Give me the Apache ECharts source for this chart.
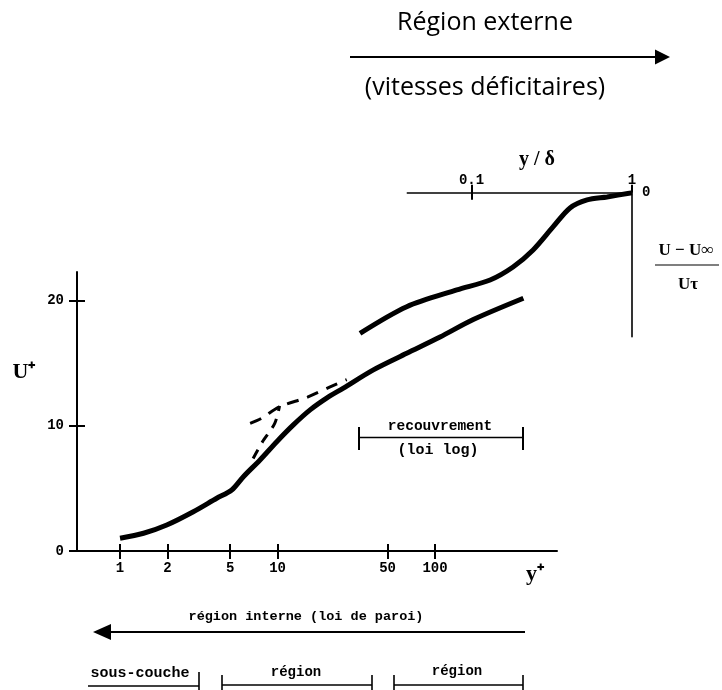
<!DOCTYPE html>
<html><head><meta charset="utf-8">
<script src="https://cdn.jsdelivr.net/npm/echarts@6/dist/echarts.min.js"></script>
<style>html,body{margin:0;padding:0;background:#fff}#c{width:722px;height:690px}</style>
</head><body><div id="c"></div>
<script>
// ---- data ----
const innerTickValues = [1, 2, 5, 10, 50, 100];
const innerTickLabels = ['1', '2', '5', '10', '50', '100'];
const uPlusTickValues = [0, 10, 20];
const outerTickValues = [0.1, 1];
const outerTickLabels = ['0.1', '1'];
const defectTickValues = [0];
const outerAxisStart = 0.0395;   // where the drawn y/delta axis line begins

// measured wall-law profile U+ vs y+
const profileYPlus = [1, 1.41, 1.98, 2.92, 4.11, 5.12, 6.07, 7.74, 9.89, 12.6, 16.1, 20.5, 26.2, 40.6, 66.1, 107.6, 175, 364];
const profileUPlus = [1.02, 1.42, 2.08, 3.14, 4.22, 4.88, 5.94, 7.28, 8.74, 10.08, 11.28, 12.22, 13.02, 14.48, 15.8, 17.1, 18.5, 20.2];

// dashed log-law asymptote
const logLawYPlus = [6.7, 7.9, 10.2, 15.5, 21.4, 27.5];
const logLawUPlus = [10.2, 10.6, 11.5, 12.3, 13.1, 13.7];

// dashed viscous (linear) asymptote
const linearYPlus = [7.0, 8.0, 9.6, 10.3];
const linearUPlus = [7.4, 8.7, 10.2, 11.6];

// velocity-defect profile (U - Uinf)/Utau vs y/delta
const defectYDelta = [0.0202, 0.0395, 0.081, 0.1306, 0.1815, 0.242, 0.322, 0.411, 0.525, 0.699, 1.0];
const defectValue = [-11.25, -9.12, -7.78, -6.98, -5.94, -4.58, -2.74, -1.22, -0.58, -0.34, 0];

// ---- chart ----
const zip = (a, b) => a.map((v, i) => [v, b[i]]);
const lookup = (vals, labels) => (v) => {
  for (let i = 0; i < vals.length; i++) if (Math.abs(vals[i] - v) / vals[i] < 1e-6) return labels[i];
  return String(v);
};
const MONO = 'Liberation Mono';
const lblStyle = {color: '#000', fontFamily: MONO, fontWeight: 'bold', fontSize: 14};
const black2 = {color: '#000', width: 2};

const chart = echarts.init(document.getElementById('c'), null, {renderer: 'canvas'});
chart.setOption({
  animation: false,
  backgroundColor: '#fff',
  grid: [
    {left: 77, top: 272, width: 480, height: 279},
    {left: 360, top: 192.7, width: 272, height: 144}
  ],
  xAxis: [
    {type: 'log', gridIndex: 0, position: 'bottom', min: 0.533, max: 595,
      axisLine: {lineStyle: black2},
      axisTick: {customValues: innerTickValues, length: 8, lineStyle: black2},
      axisLabel: Object.assign({customValues: innerTickValues, formatter: lookup(innerTickValues, innerTickLabels), margin: 10}, lblStyle),
      splitLine: {show: false}, minorTick: {show: false}},
    {type: 'log', gridIndex: 0, position: 'bottom', min: 0.533, max: 595,
      axisLine: {show: false},
      axisTick: {customValues: innerTickValues, inside: true, length: 7, lineStyle: black2},
      axisLabel: {show: false}, splitLine: {show: false}},
    {type: 'log', gridIndex: 1, position: 'top', min: 0.0202, max: 1,
      axisLine: {show: false},
      axisTick: {customValues: outerTickValues, length: 8, lineStyle: black2},
      axisLabel: Object.assign({customValues: outerTickValues, formatter: lookup(outerTickValues, outerTickLabels), margin: 5}, lblStyle),
      splitLine: {show: false}},
    {type: 'log', gridIndex: 1, position: 'top', min: 0.0202, max: 1,
      axisLine: {show: false},
      axisTick: {customValues: [0.1], inside: true, length: 7, lineStyle: black2},
      axisLabel: {show: false}, splitLine: {show: false}}
  ],
  yAxis: [
    {type: 'value', gridIndex: 0, position: 'left', min: 0, max: 22.3, interval: 10,
      axisLine: {onZero: false, lineStyle: black2},
      axisTick: {customValues: uPlusTickValues, length: 8, lineStyle: black2},
      axisLabel: Object.assign({customValues: uPlusTickValues, margin: 13}, lblStyle),
      splitLine: {show: false}},
    {type: 'value', gridIndex: 0, position: 'left', min: 0, max: 22.3, interval: 10,
      axisLine: {show: false, onZero: false},
      axisTick: {customValues: [10, 20], inside: true, length: 8, lineStyle: black2},
      axisLabel: {show: false}, splitLine: {show: false}},
    {type: 'value', gridIndex: 1, position: 'right', min: -11.52, max: 0,
      axisLine: {onZero: false, lineStyle: {color: '#000', width: 1.6}},
      axisTick: {show: false},
      axisLabel: Object.assign({customValues: defectTickValues, margin: 10}, lblStyle),
      splitLine: {show: false}}
  ],
  series: [
    {type: 'line', xAxisIndex: 0, yAxisIndex: 0, data: zip(profileYPlus, profileUPlus),
      showSymbol: false, smooth: 0.3, lineStyle: {color: '#000', width: 5}},
    {type: 'line', xAxisIndex: 0, yAxisIndex: 0, data: zip(logLawYPlus, logLawUPlus),
      showSymbol: false, smooth: 0.3, lineStyle: {color: '#000', width: 3, type: [12, 9]}},
    {type: 'line', xAxisIndex: 0, yAxisIndex: 0, data: zip(linearYPlus, linearUPlus),
      showSymbol: false, smooth: 0.3, lineStyle: {color: '#000', width: 3, type: [10, 8]}},
    {type: 'line', xAxisIndex: 2, yAxisIndex: 2, data: zip(defectYDelta, defectValue),
      showSymbol: false, smooth: 0.3, lineStyle: {color: '#000', width: 5},
      markLine: {silent: true, symbol: 'none', label: {show: false},
        lineStyle: {color: '#000', width: 1.6, type: 'solid'},
        data: [[{coord: [outerAxisStart, 0]}, {coord: [1, 0]}]]}}
  ],
  graphic: [
    // top header
    {type: 'text', x: 485, y: 23, style: {text: 'Région externe', fontFamily: 'Open Sans', fontSize: 25, fill: '#000', align: 'center', verticalAlign: 'middle'}},
    {type: 'line', shape: {x1: 350, y1: 57, x2: 657, y2: 57}, style: {stroke: '#000', lineWidth: 2}},
    {type: 'polygon', shape: {points: [[655, 49.5], [670, 57], [655, 64.5]]}, style: {fill: '#000'}},
    {type: 'text', x: 485, y: 88, style: {text: '(vitesses déficitaires)', fontFamily: 'Open Sans', fontSize: 25, fill: '#000', align: 'center', verticalAlign: 'middle'}},
    // axis names
    {type: 'text', x: 537, y: 160, style: {text: 'y / δ', fontFamily: 'Liberation Serif', fontWeight: 'bold', fontSize: 20, fill: '#000', align: 'center', verticalAlign: 'middle'}},
    {type: 'text', x: 686, y: 251, style: {text: 'U − U∞', fontFamily: 'Liberation Serif', fontWeight: 'bold', fontSize: 17, fill: '#000', align: 'center', verticalAlign: 'middle'}},
    {type: 'line', shape: {x1: 655, y1: 265, x2: 719, y2: 265}, style: {stroke: '#000', lineWidth: 1.2}},
    {type: 'text', x: 688, y: 285, style: {text: 'Uτ', fontFamily: 'Liberation Serif', fontWeight: 'bold', fontSize: 17, fill: '#000', align: 'center', verticalAlign: 'middle'}},
    {type: 'text', x: 24, y: 372, style: {text: 'U⁺', fontFamily: 'Liberation Serif', fontWeight: 'bold', fontSize: 22, fill: '#000', align: 'center', verticalAlign: 'middle'}},
    {type: 'text', x: 535, y: 574, style: {text: 'y⁺', fontFamily: 'Liberation Serif', fontWeight: 'bold', fontSize: 22, fill: '#000', align: 'center', verticalAlign: 'middle'}},
    // recouvrement bracket
    {type: 'line', shape: {x1: 359, y1: 437.5, x2: 523, y2: 437.5}, style: {stroke: '#000', lineWidth: 1.6}},
    {type: 'line', shape: {x1: 359, y1: 427, x2: 359, y2: 450}, style: {stroke: '#000', lineWidth: 2}},
    {type: 'line', shape: {x1: 523, y1: 427, x2: 523, y2: 450}, style: {stroke: '#000', lineWidth: 2}},
    {type: 'text', x: 440, y: 426, style: {text: 'recouvrement', fontFamily: MONO, fontWeight: 'bold', fontSize: 14.5, fill: '#000', align: 'center', verticalAlign: 'middle'}},
    {type: 'text', x: 438, y: 450, style: {text: '(loi log)', fontFamily: MONO, fontWeight: 'bold', fontSize: 15, fill: '#000', align: 'center', verticalAlign: 'middle'}},
    // inner region arrow
    {type: 'text', x: 306, y: 617, style: {text: 'région interne (loi de paroi)', fontFamily: MONO, fontWeight: 'bold', fontSize: 13.5, fill: '#000', align: 'center', verticalAlign: 'middle'}},
    {type: 'line', shape: {x1: 110, y1: 632, x2: 525, y2: 632}, style: {stroke: '#000', lineWidth: 2}},
    {type: 'polygon', shape: {points: [[93, 632], [111, 624], [111, 640]]}, style: {fill: '#000'}},
    // sub-region brackets
    {type: 'text', x: 140, y: 673, style: {text: 'sous-couche', fontFamily: MONO, fontWeight: 'bold', fontSize: 15, fill: '#000', align: 'center', verticalAlign: 'middle'}},
    {type: 'line', shape: {x1: 88, y1: 686, x2: 199, y2: 686}, style: {stroke: '#000', lineWidth: 1.6}},
    {type: 'line', shape: {x1: 199, y1: 672, x2: 199, y2: 690}, style: {stroke: '#000', lineWidth: 1.6}},
    {type: 'text', x: 296, y: 672, style: {text: 'région', fontFamily: MONO, fontWeight: 'bold', fontSize: 14, fill: '#000', align: 'center', verticalAlign: 'middle'}},
    {type: 'line', shape: {x1: 222, y1: 685, x2: 372, y2: 685}, style: {stroke: '#000', lineWidth: 1.6}},
    {type: 'line', shape: {x1: 222, y1: 675, x2: 222, y2: 690}, style: {stroke: '#000', lineWidth: 1.6}},
    {type: 'line', shape: {x1: 372, y1: 675, x2: 372, y2: 690}, style: {stroke: '#000', lineWidth: 1.6}},
    {type: 'text', x: 457, y: 671, style: {text: 'région', fontFamily: MONO, fontWeight: 'bold', fontSize: 14, fill: '#000', align: 'center', verticalAlign: 'middle'}},
    {type: 'line', shape: {x1: 394, y1: 685, x2: 523, y2: 685}, style: {stroke: '#000', lineWidth: 1.6}},
    {type: 'line', shape: {x1: 394, y1: 675, x2: 394, y2: 690}, style: {stroke: '#000', lineWidth: 1.6}},
    {type: 'line', shape: {x1: 523, y1: 675, x2: 523, y2: 690}, style: {stroke: '#000', lineWidth: 1.6}}
  ]
});
</script></body></html>
